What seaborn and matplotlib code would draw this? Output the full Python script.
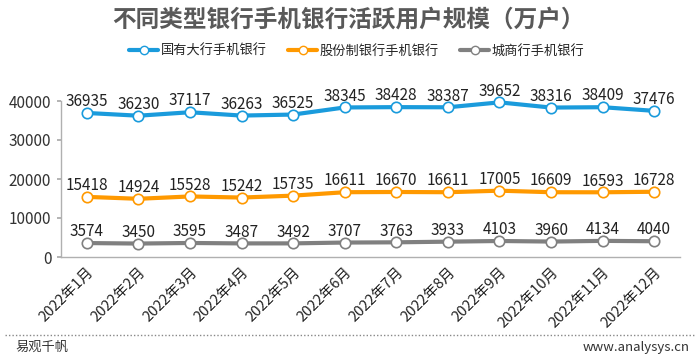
import matplotlib
matplotlib.use("Agg")
import matplotlib.pyplot as plt
import seaborn as sns
import pandas as pd
from matplotlib.lines import Line2D

months = ["2022年1月", "2022年2月", "2022年3月", "2022年4月", "2022年5月", "2022年6月",
          "2022年7月", "2022年8月", "2022年9月", "2022年10月", "2022年11月", "2022年12月"]
series_names = ["国有大行手机银行", "股份制银行手机银行", "城商行手机银行"]
state_banks = [36935, 36230, 37117, 36263, 36525, 38345, 38428, 38387, 39652, 38316, 38409, 37476]
joint_stock = [15418, 14924, 15528, 15242, 15735, 16611, 16670, 16611, 17005, 16609, 16593, 16728]
city_banks = [3574, 3450, 3595, 3487, 3492, 3707, 3763, 3933, 4103, 3960, 4134, 4040]
yticks = [0, 10000, 20000, 30000, 40000]
colors = ["#1A9BDC", "#FF9900", "#808080"]

sns.set_theme(style="white")
plt.rcParams['font.family'] = ['Noto Sans CJK SC', 'DejaVu Sans']

rows = []
for name, vals in zip(series_names, [state_banks, joint_stock, city_banks]):
    for i, (m, v) in enumerate(zip(months, vals)):
        rows.append({"month": m, "idx": i, "series": name, "value": v})
df = pd.DataFrame(rows)

fig = plt.figure(figsize=(7, 3.56), dpi=100)
ax = fig.add_axes([61/700, 99/356, 619/700, 156/356])

pal = dict(zip(series_names, colors))
sns.lineplot(data=df, x="idx", y="value", hue="series", palette=pal, ax=ax,
             linewidth=3, marker="o", markersize=7.5, markerfacecolor="white",
             markeredgewidth=1.2, legend=False, sort=False)
for line, c in zip(ax.get_lines(), colors):
    line.set_markeredgecolor(c)
    line.set_markerfacecolor("white")
    line.set_clip_on(False)

for vals in [state_banks, joint_stock, city_banks]:
    for i, v in enumerate(vals):
        ax.annotate(f"{v}", (i, v), xytext=(0, 2), textcoords="offset points",
                    ha="center", va="bottom", fontsize=11, color="#222222",
                    annotation_clip=False)

ax.set_xlim(-0.5, 11.5)
ax.set_ylim(0, 40000)
ax.set_yticks(yticks)
ax.set_yticklabels([str(t) for t in yticks], fontsize=11, color="#333333")
ax.set_xticks(range(12))
ax.set_xticklabels(months, rotation=45, ha="right", rotation_mode="anchor",
                   fontsize=10.5, color="#222222")
ax.tick_params(axis="x", length=0, pad=6)
ax.tick_params(axis="y", length=3, color="#aaaaaa", left=True, pad=4)
ax.set_xlabel("")
ax.set_ylabel("")
for s in ["top", "right"]:
    ax.spines[s].set_visible(False)
for s in ["left", "bottom"]:
    ax.spines[s].set_color("#b0b0b0")
    ax.spines[s].set_linewidth(1)

fig.text(0.498, 1 - 20/356, "不同类型银行手机银行活跃用户规模（万户）", ha="center", va="center",
         fontsize=17, fontweight="bold", color="#595959")

handles = [Line2D([0], [0], color=c, linewidth=3, marker="o", markersize=6,
                  markerfacecolor="white", markeredgecolor=c) for c in colors]
fig.legend(handles, series_names, loc="center", bbox_to_anchor=(0.51, 1 - 51/356),
           ncol=3, frameon=False, fontsize=9.5, handlelength=2.2, columnspacing=1.6,
           handletextpad=0.2)

fig.add_artist(Line2D([5/700, 695/700], [1 - 335/356, 1 - 335/356], color="#888888",
                      linewidth=1, linestyle=(0, (1, 1.5))))
fig.text(15/700, 1 - 347/356, "易观千帆", ha="left", va="center", fontsize=9.5, color="#333333")
fig.text(690/700, 1 - 347/356, "www.analysys.cn", ha="right", va="center", fontsize=9.5, color="#333333")

fig.savefig("out.png", dpi=100)
